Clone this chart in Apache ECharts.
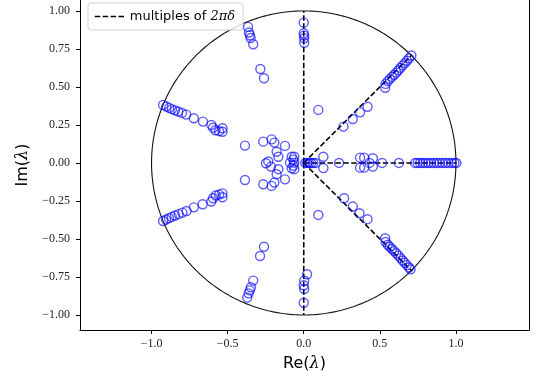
<!DOCTYPE html>
<html>
<head>
<meta charset="utf-8">
<script src="https://cdn.jsdelivr.net/npm/echarts@6/dist/echarts.min.js"></script>
<style>
  html, body { margin: 0; padding: 0; background: #fff; }
  #chart { width: 536px; height: 382px; }
</style>
</head>
<body>
<div id="chart"></div>
<script>
// eigenvalues, grouped by branch: [re, im]
const upperLeft = [[-0.924,0.382],[-0.903,0.371],[-0.884,0.362],[-0.866,0.354],[-0.846,0.346],[-0.824,0.338],[-0.800,0.329],[-0.772,0.318],[-0.722,0.294],[-0.662,0.272],[-0.607,0.250],[-0.596,0.232],[-0.580,0.215],[-0.556,0.209],[-0.534,0.228],[-0.534,0.205]];
const lowerLeft = [[-0.924,-0.382],[-0.905,-0.372],[-0.886,-0.363],[-0.867,-0.355],[-0.846,-0.346],[-0.822,-0.337],[-0.797,-0.327],[-0.770,-0.316],[-0.722,-0.292],[-0.664,-0.272],[-0.607,-0.254],[-0.596,-0.232],[-0.578,-0.214],[-0.556,-0.208],[-0.534,-0.200],[-0.534,-0.226]];
const upperSteep = [[-0.366,0.895],[-0.360,0.858],[-0.354,0.840],[-0.349,0.822],[-0.332,0.781],[-0.285,0.618],[-0.261,0.557]];
const lowerSteep = [[-0.371,-0.886],[-0.362,-0.858],[-0.354,-0.838],[-0.347,-0.818],[-0.332,-0.774],[-0.287,-0.612],[-0.261,-0.551]];
const imagBranch = [[0.000,0.923],[0.000,0.853],[0.003,0.838],[0.003,0.820],[0.003,0.790],[0.096,0.349],[0.096,-0.342],[0.022,-0.732],[0.003,-0.775],[0.000,-0.805],[0.003,-0.830],[0.000,-0.920]];
const upperDiag = [[0.261,0.239],[0.322,0.289],[0.370,0.333],[0.419,0.370],[0.535,0.495],[0.538,0.520],[0.552,0.538],[0.566,0.553],[0.580,0.566],[0.594,0.580],[0.608,0.594],[0.622,0.610],[0.636,0.626],[0.650,0.642],[0.664,0.657],[0.678,0.672],[0.692,0.688],[0.707,0.707]];
const lowerDiag = [[0.265,-0.232],[0.322,-0.287],[0.366,-0.331],[0.419,-0.370],[0.535,-0.495],[0.538,-0.520],[0.552,-0.538],[0.566,-0.553],[0.580,-0.566],[0.594,-0.580],[0.608,-0.594],[0.622,-0.610],[0.636,-0.626],[0.650,-0.642],[0.664,-0.657],[0.678,-0.672],[0.692,-0.688],[0.702,-0.700]];
const realBranch = [[0.010,0],[0.022,0],[0.034,0],[0.048,0],[0.062,0],[0.078,0],[0.129,0.041],[0.129,-0.034],[0.232,0],[0.370,0.035],[0.397,0.035],[0.370,-0.031],[0.397,-0.031],[0.454,0.031],[0.454,-0.024],[0.432,0],[0.515,0],[0.625,0],[0.732,0],[0.748,0],[0.765,0],[0.782,0],[0.800,0],[0.818,0],[0.836,0],[0.855,0],[0.874,0],[0.893,0],[0.912,0],[0.932,0],[0.952,0],[0.972,0],[0.990,0],[1.003,0]];
const centerCluster = [[-0.386,0.114],[-0.386,-0.112],[-0.266,0.140],[-0.266,-0.140],[-0.211,0.155],[-0.211,-0.151],[-0.193,0.134],[-0.193,-0.129],[-0.123,0.112],[-0.123,-0.108],[-0.178,0.074],[-0.178,-0.074],[-0.167,0.041],[-0.167,-0.041],[-0.233,0.010],[-0.248,-0.002],[-0.215,-0.024],[-0.079,0.041],[-0.062,0.041],[-0.090,0.002],[-0.062,0.002],[-0.079,-0.035],[-0.062,-0.041],[-0.068,0.022],[-0.068,-0.018]];

// directions of the dashed rays (degrees), multiples of 2*pi*delta
const rayAngles = [0, 45, 90, -45, -90];

const xTicks = [-1, -0.5, 0, 0.5, 1];
const yTicks = [-1, -0.75, -0.5, -0.25, 0, 0.25, 0.5, 0.75, 1];

const eigs = [].concat(upperLeft, lowerLeft, upperSteep, lowerSteep, imagBranch, upperDiag, lowerDiag, realBranch, centerCluster);

// unit circle guide
const circle = [];
for (let i = 0; i <= 360; i++) {
  const t = i * Math.PI / 180;
  circle.push([Math.cos(t), Math.sin(t)]);
}

const fmt = (v, d) => (v < 0 ? '\u2212' : '') + Math.abs(v).toFixed(d);
const serif = 'Liberation Serif';
const mathRich = {
  a: { fontFamily: 'DejaVu Sans', fontSize: 16, color: '#000' },
  b: { fontFamily: 'DejaVu Serif', fontStyle: 'italic', fontSize: 16, color: '#000' }
};
const dash = { color: '#000', width: 1.6, type: [5.5, 2.4] };

const raySeries = rayAngles.map((a) => {
  const t = a * Math.PI / 180;
  return {
    name: 'multiples of 2πδ',
    type: 'line',
    data: [[0, 0], [Math.cos(t), Math.sin(t)]],
    symbol: 'none',
    silent: true,
    itemStyle: { color: '#000' },
    lineStyle: dash,
    z: 3
  };
});

const chart = echarts.init(document.getElementById('chart'));
chart.setOption({
  animation: false,
  // top spine sits just above the canvas in the original, so no top border here
  grid: { left: 80, right: 7, top: 0, bottom: 52, show: false },
  legend: {
    data: ['multiples of 2πδ'],
    left: 88, top: 3,
    padding: [7, 8, 7, 6],
    itemWidth: 30, itemHeight: 12,
    backgroundColor: 'rgba(255,255,255,0.8)',
    borderColor: '#d0d0d0', borderWidth: 1, borderRadius: 3,
    itemStyle: { color: 'rgba(0,0,0,0)', borderColor: 'rgba(0,0,0,0)', borderWidth: 0 },
    lineStyle: dash,
    formatter: () => '{a|multiples of }{b|2πδ}',
    textStyle: {
      color: '#000',
      rich: {
        a: { fontFamily: 'DejaVu Sans', fontSize: 13, color: '#000' },
        b: { fontFamily: 'DejaVu Serif', fontStyle: 'italic', fontSize: 13, color: '#000' }
      }
    }
  },
  xAxis: {
    type: 'value',
    min: -1.47, max: 1.48,
    name: '{a|Re(}{b|λ}{a|)}',
    nameLocation: 'middle',
    nameGap: 26,
    nameTextStyle: { rich: mathRich },
    axisLine: { show: true, onZero: false, lineStyle: { color: '#000', width: 1 } },
    axisTick: { show: true, length: 4, lineStyle: { color: '#000' }, customValues: xTicks },
    axisLabel: {
      customValues: xTicks, margin: 8,
      fontFamily: serif, fontSize: 12, color: '#222',
      formatter: (v) => fmt(v, 1)
    },
    splitLine: { show: false }
  },
  yAxis: [
    {
      type: 'value',
      min: -1.099, max: 1.072,
      name: '{a|Im(}{b|λ}{a|)}',
      nameLocation: 'middle',
      nameGap: 48,
      nameTextStyle: { rich: mathRich },
      axisLine: { show: true, onZero: false, lineStyle: { color: '#000', width: 1 } },
      axisTick: { show: true, length: 4, lineStyle: { color: '#000' }, customValues: yTicks },
      axisLabel: {
        customValues: yTicks, margin: 10,
        fontFamily: serif, fontSize: 12, color: '#222',
        formatter: (v) => fmt(v, 2)
      },
      splitLine: { show: false }
    },
    {
      // right spine only
      type: 'value',
      position: 'right',
      min: -1.099, max: 1.072,
      axisLine: { show: true, onZero: false, lineStyle: { color: '#000', width: 1 } },
      axisTick: { show: false },
      axisLabel: { show: false },
      splitLine: { show: false }
    }
  ],
  series: [
    {
      name: 'circle',
      type: 'line',
      data: circle,
      symbol: 'none',
      silent: true,
      lineStyle: { color: '#111', width: 1.1 },
      z: 2
    },
    ...raySeries,
    {
      name: 'eigenvalues',
      type: 'scatter',
      data: eigs,
      symbol: 'circle',
      symbolSize: 9,
      itemStyle: { color: 'rgba(0,0,0,0)', borderColor: 'rgba(0,0,255,0.8)', borderWidth: 1.4 },
      z: 4
    }
  ]
});
</script>
</body>
</html>
